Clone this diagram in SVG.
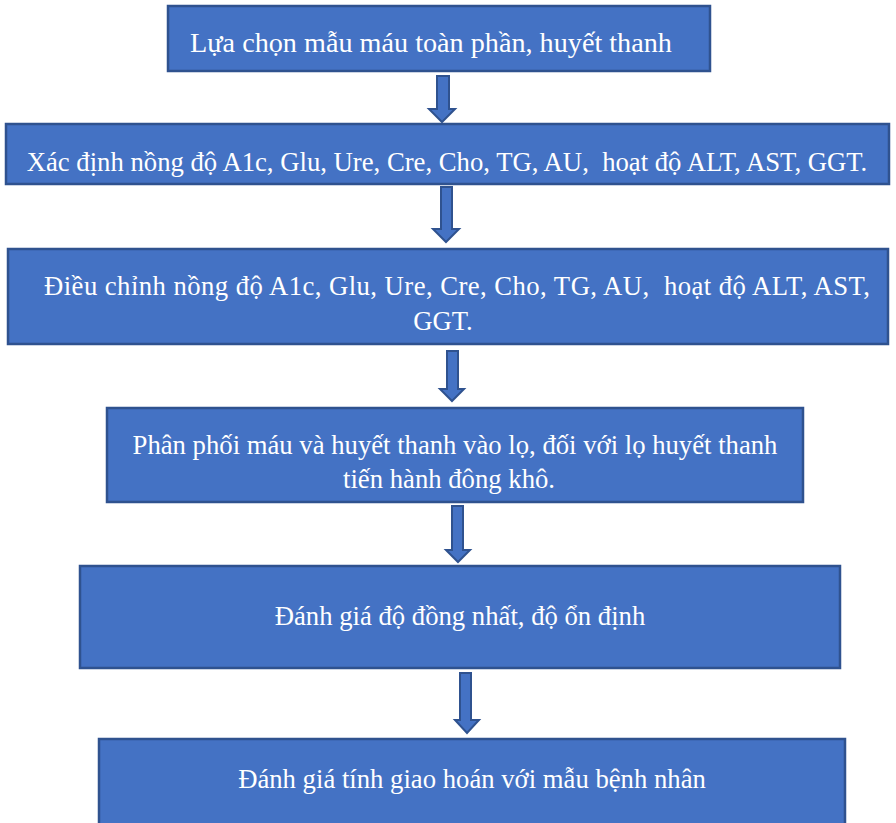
<svg xmlns="http://www.w3.org/2000/svg" width="896" height="823" viewBox="0 0 896 823">
<style>
.box{fill:#4472C4;stroke:#2F528F;stroke-width:2.5}
.arr{fill:#4472C4;stroke:#2F528F;stroke-width:2}
.t{font-family:"Liberation Serif","Times New Roman",serif;font-size:26.7px;fill:#FFFFFF;text-anchor:middle}
</style>
<rect width="896" height="823" fill="#FFFFFF"/>
<g id="n1"><rect class="box" x="168" y="6" width="542" height="65"/><text class="t" style="font-size:28.2px" x="431" y="52">Lựa chọn mẫu máu toàn phần, huyết thanh</text></g>
<g id="n2"><rect class="box" x="6" y="124" width="883" height="60"/><text class="t" x="447" y="171" xml:space="preserve">Xác định nồng độ A1c, Glu, Ure, Cre, Cho, TG, AU,  hoạt độ ALT, AST, GGT.</text></g>
<g id="n3"><rect class="box" x="8" y="249" width="880" height="95"/><text class="t" x="457" y="295" textLength="826" lengthAdjust="spacing" xml:space="preserve">Điều chỉnh nồng độ A1c, Glu, Ure, Cre, Cho, TG, AU,  hoạt độ ALT, AST,</text><text class="t" x="443" y="330">GGT.</text></g>
<g id="n4"><rect class="box" x="107" y="408" width="696" height="94"/><text class="t" x="455" y="454">Phân phối máu và huyết thanh vào lọ, đối với lọ huyết thanh</text><text class="t" x="449" y="488">tiến hành đông khô.</text></g>
<g id="n5"><rect class="box" x="80" y="566" width="760" height="102"/><text class="t" x="460" y="625">Đánh giá độ đồng nhất, độ ổn định</text></g>
<g id="n6"><rect class="box" x="99" y="739" width="746" height="100"/><text class="t" x="472" y="788">Đánh giá tính giao hoán với mẫu bệnh nhân</text></g>
<g id="connectors">
<path class="arr" d="M437,76 H449 V109 H455 L442,122 L429,109 H437 Z"/>
<path class="arr" d="M441,187 H452 V229 H459 L446,242 L433,229 H441 Z"/>
<path class="arr" d="M447,351 H458 V389 H464 L452,401 L440,389 H447 Z"/>
<path class="arr" d="M452,506 H463 V550 H470 L458,562 L446,550 H452 Z"/>
<path class="arr" d="M460,673 H471 V720 H479 L467,733 L455,720 H460 Z"/>
</g>
</svg>
